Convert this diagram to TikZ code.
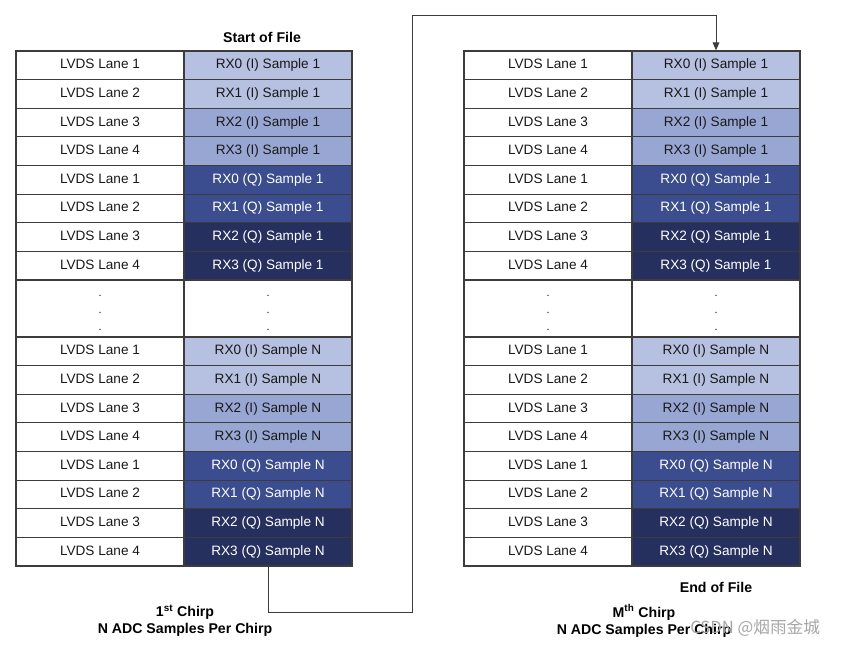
\documentclass[tikz,border=0pt]{standalone}
\usepackage{fontspec}
\setmainfont{Liberation Sans}
\newfontfamily\cjkfont{Noto Sans CJK SC}
\usepackage{tikz}
\usetikzlibrary{arrows.meta, positioning, calc}

\definecolor{gridline}{HTML}{3C3C3C}
\definecolor{ilight}{HTML}{B6C0E0}
\definecolor{imid}{HTML}{98A6D3}
\definecolor{qmid}{HTML}{3B4D8E}
\definecolor{qdark}{HTML}{26305E}

% three stacked dots for the skipped rows
\newcommand\gapdots{%
    \makebox[0pt]{\raisebox{8.9pt}[0pt][0pt]{.}}%
    \makebox[0pt]{\raisebox{-3.85pt}[0pt][0pt]{.}}%
    \makebox[0pt]{\raisebox{-16.6pt}[0pt][0pt]{.}}}

\begin{document}
\begin{tikzpicture}[
        x=0.75pt, y=-0.75pt,
        cell/.style={draw=gridline, line width=0.9pt, minimum width=126pt,
            minimum height=21.47pt, inner sep=0pt, text height=7.4pt, text depth=2.1pt,
            font=\fontsize{10.2}{12}\selectfont},
        lanecell/.style={cell, fill=white, text=black!90},
        ilightcell/.style={cell, fill=ilight, text=black!90},
        imidcell/.style={cell, fill=imid, text=black!90},
        qmidcell/.style={cell, fill=qmid, text=white},
        qdarkcell/.style={cell, fill=qdark, text=white},
        gapcell/.style={cell, fill=white, minimum height=42.75pt,
            text height=0pt, text depth=0pt, font=\fontsize{8}{8}\selectfont},
        caption/.style={font=\bfseries\fontsize{10.6}{12.75}\selectfont, align=center},
        flow/.style={draw=gridline, line width=0.75pt,
            -{Triangle[length=6pt, width=5pt]}}
    ]
        \useasboundingbox (0,0) rectangle (841,647);

        % Tables (L = 1st chirp, R = Mth chirp)
        \foreach \t/\xo in {L/0, R/448} {
            \foreach \s/\yo in {1/51, N/337} {
                \foreach \i/\rx/\iq/\kind in {0/0/I/ilightcell, 1/1/I/ilightcell,
                        2/2/I/imidcell, 3/3/I/imidcell, 4/0/Q/qmidcell,
                        5/1/Q/qmidcell, 6/2/Q/qdarkcell, 7/3/Q/qdarkcell} {
                    \pgfmathtruncatemacro\lane{\rx+1}
                    \node[lanecell] (\t-lane\i-\s) at (100+\xo, \yo+28.625*\i+14.31) {LVDS Lane \lane};
                    \node[\kind] (\t-rx\i-\s) at (268+\xo, \yo+28.625*\i+14.31) {RX\rx{} (\iq) Sample \s};
                }
            }
            % Gap rows
            \node[gapcell] (\t-gap-lane) at (100+\xo, 308.5) {\gapdots};
            \node[gapcell] (\t-gap-rx) at (268+\xo, 308.5) {\gapdots};
        }

        % Labels
        \node[caption] (start) at (262,37) {Start of File};
        \node[caption] (end) at (716,587) {End of File};
        \node[caption] (first) at (185,621) {1\textsuperscript{st} Chirp\\N ADC Samples Per Chirp};
        \node[caption] (last) at (644,621) {M\textsuperscript{th} Chirp\\N ADC Samples Per Chirp};
        \node[anchor=west, text=black!35, font=\fontsize{12.5}{14}\selectfont, inner sep=0pt]
            (mark) at (690,628) {\cjkfont CSDN @烟雨金城};

        % Chirp-to-chirp connector
        \coordinate (loopbot) at (412,612);
        \coordinate (looptop) at (412,15);
        \draw[flow] (L-rx7-N.south) |- (loopbot) -- (looptop) -| (R-rx0-1.north);
    \end{tikzpicture}
\end{document}
